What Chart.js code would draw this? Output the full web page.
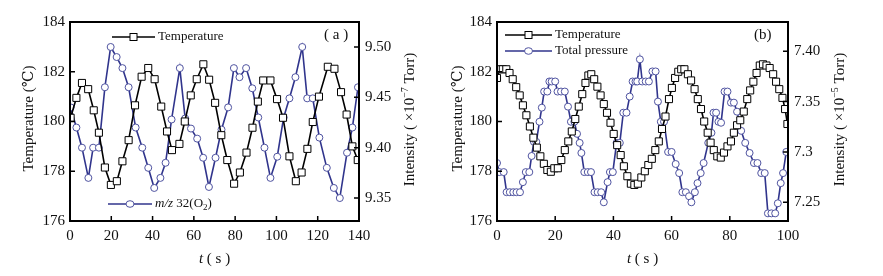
<!DOCTYPE html>
<html><head><meta charset="utf-8">
<script src="https://cdn.jsdelivr.net/npm/chart.js@4/dist/chart.umd.min.js"></script>
<style>
html,body{margin:0;padding:0;background:#fff;overflow:hidden;}
#wa{position:absolute;left:0;top:0;}
#wb{position:absolute;left:441px;top:0;}
</style></head><body>
<canvas id="wa" width="441" height="276"></canvas>
<canvas id="wb" width="442" height="276"></canvas>
<script>
// ---------- data: panel (a) ----------
const A_TEMP_TIME = [0.3,3.1,5.8,8.8,11.5,14.0,16.9,19.8,22.7,25.4,28.4,31.5,34.7,37.9,41.0,44.2,47.0,49.4,53.0,55.6,58.5,61.4,64.6,67.4,70.3,73.3,76.2,79.5,82.3,85.5,88.4,91.0,93.6,97.1,100.3,103.2,106.3,109.4,112.2,115.0,117.6,120.6,124.9,128.1,131.3,134.0,136.8,139.4];
const A_TEMP_VAL = [180.15,180.95,181.55,181.3,180.45,179.55,178.15,177.45,177.6,178.4,179.25,180.65,181.8,182.15,181.7,180.6,179.6,178.85,179.1,180.0,181.05,181.7,182.3,181.68,180.75,179.45,178.45,177.5,177.95,178.75,179.75,180.8,181.65,181.65,180.9,180.15,178.6,177.6,177.95,178.9,179.98,181.0,182.2,182.12,181.18,180.28,179.0,178.45];
const A_O2_TIME = [0.3,3.1,5.8,8.9,11.2,14.0,16.9,19.7,22.6,25.4,28.4,31.8,35.0,37.9,40.8,43.8,46.3,49.2,53.2,55.8,58.6,61.6,64.5,67.3,70.5,73.4,76.6,79.4,82.1,85.3,88.3,91.2,94.2,97.1,100.4,103.5,106.3,109.2,112.5,114.9,117.6,120.8,124.4,127.8,130.7,134.2,136.8,139.5];
const A_O2_VAL = [9.440,9.420,9.400,9.370,9.400,9.400,9.460,9.500,9.490,9.479,9.460,9.420,9.400,9.380,9.360,9.370,9.385,9.428,9.479,9.429,9.419,9.409,9.390,9.361,9.390,9.418,9.440,9.479,9.470,9.479,9.459,9.430,9.400,9.370,9.391,9.430,9.449,9.470,9.500,9.449,9.449,9.410,9.380,9.360,9.350,9.395,9.420,9.460];
const A_X_TICKS = [0,20,40,60,80,100,120,140];
const A_Y_TICKS = [176,178,180,182,184];
const A_Y2_TICKS = [9.35,9.40,9.45,9.50];
const A_Y2_LABELS = ["9.35","9.40","9.45","9.50"];

// ---------- data: panel (b) ----------
const B_TEMP_TIME = [0.0,0.8,2.0,3.2,4.3,5.4,6.6,7.8,8.9,10.1,11.3,12.5,13.7,14.9,16.1,17.3,18.5,19.7,20.9,22.1,23.3,24.5,25.7,26.9,28.1,29.3,30.4,31.4,32.4,33.4,34.5,35.6,36.7,37.8,39.0,40.1,41.3,42.5,43.6,44.8,46.0,47.2,48.4,49.6,50.8,52.0,53.2,54.4,55.6,56.7,57.9,59.1,60.1,61.2,62.3,63.3,64.4,65.6,66.7,67.9,69.0,70.1,71.2,72.4,73.4,74.5,75.7,76.9,78.0,79.2,80.4,81.4,82.5,83.6,84.8,86.0,87.0,88.1,89.2,90.3,91.4,92.6,93.7,94.9,95.9,97.0,98.1,99.0,99.8];
const B_TEMP_VAL = [181.75,182.1,182.1,182.1,181.95,181.7,181.38,181.05,180.65,180.25,179.8,179.35,178.95,178.6,178.3,178.05,177.98,178.12,178.12,178.45,178.85,179.2,179.6,180.1,180.6,181.1,181.55,181.85,181.9,181.7,181.4,181.05,180.7,180.35,179.95,179.5,179.05,178.65,178.2,177.8,177.5,177.45,177.5,177.75,178.0,178.25,178.5,178.85,179.2,179.7,180.2,180.9,181.35,181.75,182.0,182.1,182.1,181.9,181.65,181.3,180.9,180.5,180.0,179.55,179.15,178.85,178.6,178.55,178.75,179.0,179.2,179.55,179.85,180.05,180.4,180.9,181.25,181.6,181.95,182.25,182.3,182.25,182.15,181.9,181.6,181.3,180.95,180.5,179.9];
const B_PRES_TIME = [0.0,0.8,2.3,3.3,4.4,5.6,6.7,7.9,8.9,9.9,11.1,11.9,12.7,13.5,14.6,15.4,16.2,17.3,18.0,18.8,20.0,20.8,22.0,23.3,24.4,25.4,26.6,27.5,28.4,29.0,30.0,31.2,32.3,33.5,34.6,35.8,36.7,38.0,38.8,39.8,41.1,42.2,43.4,44.5,45.6,46.6,47.6,48.2,49.1,49.9,51.1,52.2,53.4,54.5,55.3,56.3,57.4,58.8,60.0,61.4,62.6,63.7,64.9,66.0,66.8,68.0,68.9,70.0,71.0,72.6,73.7,74.4,75.3,76.1,77.0,78.2,79.2,80.4,81.4,82.5,83.9,85.3,86.8,88.3,89.5,90.8,92.0,93.1,94.3,95.6,96.5,97.5,98.3,99.4];
const B_PRES_VAL = [7.289,7.280,7.280,7.260,7.260,7.260,7.260,7.260,7.270,7.280,7.280,7.296,7.310,7.310,7.330,7.344,7.360,7.360,7.370,7.370,7.370,7.360,7.360,7.360,7.345,7.330,7.330,7.318,7.309,7.299,7.280,7.280,7.280,7.260,7.260,7.260,7.250,7.270,7.280,7.280,7.309,7.309,7.339,7.339,7.355,7.370,7.370,7.370,7.392,7.370,7.370,7.370,7.380,7.380,7.350,7.330,7.330,7.300,7.300,7.288,7.279,7.260,7.260,7.256,7.250,7.260,7.269,7.279,7.289,7.309,7.319,7.339,7.339,7.330,7.329,7.360,7.360,7.349,7.349,7.340,7.321,7.309,7.299,7.289,7.289,7.279,7.279,7.239,7.239,7.239,7.249,7.269,7.279,7.300];
const B_X_TICKS = [0,20,40,60,80,100];
const B_Y_TICKS = [176,178,180,182,184];
const B_Y2_TICKS = [7.25,7.30,7.35,7.40];
const B_Y2_LABELS = ["7.25","7.3","7.35","7.40"];

// ---------- drawing ----------
const FONT = "'Liberation Serif','Times New Roman','DejaVu Serif',serif";
const BLUE = '#30348c';
const BLUE_PT = '#4f53a0';

function zip(xs, ys){ return xs.map((x,i)=>({x:x, y:ys[i]})); }

function drawParts(ctx, parts, x, y, align){
  let total = 0;
  parts.forEach(p=>{ ctx.font = (p.style||'') + ' ' + p.size + 'px ' + FONT; p.w = ctx.measureText(p.t).width; total += p.w; });
  let cx = align === 'center' ? x - total/2 : x;
  parts.forEach(p=>{ ctx.font = (p.style||'') + ' ' + p.size + 'px ' + FONT; ctx.fillText(p.t, cx, y + (p.dy||0)); cx += p.w; });
}

function marker(ctx, kind, x, y){
  ctx.save();
  ctx.fillStyle = '#fff';
  ctx.lineWidth = 1;
  if (kind === 'rect'){ ctx.strokeStyle = '#000'; ctx.fillRect(x-3.5,y-3.5,7,7); ctx.strokeRect(x-3.5,y-3.5,7,7); }
  else { ctx.strokeStyle = BLUE_PT; ctx.beginPath(); ctx.ellipse(x,y,4,3.3,0,0,Math.PI*2); ctx.fill(); ctx.stroke(); }
  ctx.restore();
}

function framePlugin(cfg){
  return {
    id: 'frame',
    afterDraw(chart){
      const ctx = chart.ctx;
      const {left,right,top,bottom} = chart.chartArea;
      ctx.save();
      ctx.strokeStyle = '#000';
      ctx.lineWidth = 2;
      ctx.strokeRect(left, top, right-left, bottom-top);
      ctx.lineWidth = 1.5;
      const sx = chart.scales.x, sy = chart.scales.y, sy2 = chart.scales.y2;
      ctx.beginPath();
      sx.ticks.forEach(t=>{ const p = sx.getPixelForValue(t.value); ctx.moveTo(p,bottom); ctx.lineTo(p,bottom-5); });
      sy.ticks.forEach(t=>{ const p = sy.getPixelForValue(t.value); ctx.moveTo(left,p); ctx.lineTo(left+5,p); });
      sy2.ticks.forEach(t=>{ const p = sy2.getPixelForValue(t.value); ctx.moveTo(right,p); ctx.lineTo(right-5,p); });
      ctx.stroke();

      ctx.fillStyle = '#111';
      ctx.textBaseline = 'middle';
      // x title
      drawParts(ctx, [{t:'t', size:15, style:'italic'}, {t:' ( s )', size:15}], (left+right)/2, 259, 'center');
      // left title
      ctx.save(); ctx.translate(cfg.leftTitleX, (top+bottom)/2 - 3); ctx.rotate(-Math.PI/2);
      drawParts(ctx, [{t:'Temperature (\u2103)', size:15}], 0, 0, 'center');
      ctx.restore();
      // right title
      ctx.save(); ctx.translate(cfg.rightTitleX, (top+bottom)/2 - 2); ctx.rotate(-Math.PI/2);
      drawParts(ctx, [{t:'Intensity ( \u00d710', size:15}, {t:cfg.exp, size:10, dy:-5}, {t:' Torr)', size:15}], 0, 0, 'center');
      ctx.restore();
      // panel letter
      drawParts(ctx, [{t:cfg.letter, size:15}], cfg.letterX, 35, 'left');
      // legends
      cfg.legends.forEach(lg=>{
        ctx.save();
        ctx.strokeStyle = lg.kind === 'rect' ? '#000' : BLUE;
        ctx.lineWidth = 1.5;
        ctx.beginPath(); ctx.moveTo(lg.x1, lg.y); ctx.lineTo(lg.x2, lg.y); ctx.stroke();
        marker(ctx, lg.kind, (lg.x1+lg.x2)/2, lg.y);
        ctx.fillStyle = '#111';
        drawParts(ctx, lg.parts, lg.x2 + 3, lg.y, 'left');
        ctx.restore();
      });
      ctx.restore();
    }
  };
}

function makeChart(id, o){
  const tickFont = {family: FONT, size: 15};
  return new Chart(document.getElementById(id), {
    type: 'line',
    data: { datasets: [
      { label: 'Temperature', data: zip(o.tT, o.tV), yAxisID: 'y',
        borderColor: '#000', borderWidth: 1.6, tension: 0,
        pointStyle: 'rect', pointRadius: 5, pointBackgroundColor: '#fff', pointBorderColor: '#000', pointBorderWidth: 1 },
      { label: o.name2, data: zip(o.iT, o.iV), yAxisID: 'y2',
        borderColor: BLUE, borderWidth: 1.6, tension: 0,
        pointStyle: 'circle', pointRadius: 3.5, pointBackgroundColor: '#fff', pointBorderColor: BLUE_PT, pointBorderWidth: 1 }
    ]},
    options: {
      responsive: false, animation: false,
      layout: { padding: { top: 22, left: 0, right: 0, bottom: 0 } },
      plugins: { legend: { display: false }, tooltip: { enabled: false } },
      scales: {
        x: { type: 'linear', min: 0, max: o.xmax,
          afterBuildTicks: s => { s.ticks = o.xTicks.map(v=>({value:v})); },
          afterFit: s => { s.height = 55; },
          grid: { display: false, drawTicks: false }, border: { display: false },
          ticks: { font: tickFont, color: '#111', padding: 6, maxRotation: 0, autoSkip: false, callback: v => String(v) } },
        y: { type: 'linear', position: 'left', min: 176, max: 184,
          afterBuildTicks: s => { s.ticks = o.yTicks.map(v=>({value:v})); },
          afterFit: s => { s.width = o.leftW; },
          grid: { display: false, drawTicks: false }, border: { display: false },
          ticks: { font: tickFont, color: '#111', padding: 5, autoSkip: false, callback: v => String(v) } },
        y2: { type: 'linear', position: 'right', min: o.y2min, max: o.y2max,
          afterBuildTicks: s => { s.ticks = o.y2Ticks.map(v=>({value:v})); },
          afterFit: s => { s.width = o.rightW; },
          grid: { display: false, drawTicks: false }, border: { display: false },
          ticks: { font: tickFont, color: '#111', padding: 6, autoSkip: false, callback: (v,i) => o.y2Labels[i] } }
      }
    },
    plugins: [framePlugin(o.frame)]
  });
}

makeChart('wa', {
  tT: A_TEMP_TIME, tV: A_TEMP_VAL, iT: A_O2_TIME, iV: A_O2_VAL, name2: 'm/z 32(O2)',
  xmax: 140, xTicks: A_X_TICKS, yTicks: A_Y_TICKS, y2Ticks: A_Y2_TICKS, y2Labels: A_Y2_LABELS,
  y2min: 9.3272, y2max: 9.5248, leftW: 70, rightW: 82,
  frame: { leftTitleX: 29, rightTitleX: 410, exp: '\u22127', letter: '( a )', letterX: 324,
    legends: [
      { kind: 'rect', x1: 112, x2: 155, y: 37, parts: [{t:'Temperature', size:13}] },
      { kind: 'circ', x1: 108, x2: 152, y: 204, parts: [{t:'m/z', size:13, style:'italic'}, {t:' 32(O', size:13}, {t:'2', size:9, dy:4}, {t:')', size:13}] }
    ] }
});

makeChart('wb', {
  tT: B_TEMP_TIME, tV: B_TEMP_VAL, iT: B_PRES_TIME, iV: B_PRES_VAL, name2: 'Total pressure',
  xmax: 100, xTicks: B_X_TICKS, yTicks: B_Y_TICKS, y2Ticks: B_Y2_TICKS, y2Labels: B_Y2_LABELS,
  y2min: 7.2314, y2max: 7.4291, leftW: 56, rightW: 95,
  frame: { leftTitleX: 17, rightTitleX: 399, exp: '\u22125', letter: '(b)', letterX: 313,
    legends: [
      { kind: 'rect', x1: 64, x2: 111, y: 35, parts: [{t:'Temperature', size:13}] },
      { kind: 'circ', x1: 64, x2: 111, y: 51, parts: [{t:'Total pressure', size:13}] }
    ] }
});
</script>
</body></html>
